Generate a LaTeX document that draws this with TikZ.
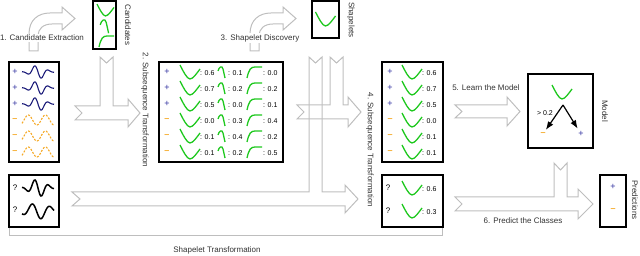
\documentclass[tikz,border=0pt]{standalone}
\usepackage{fontspec}
\setmainfont{Liberation Sans}
\usetikzlibrary{arrows.meta}
\definecolor{plusblue}{RGB}{50,50,160}
\definecolor{minusorange}{RGB}{245,170,40}
\definecolor{shpgreen}{RGB}{30,200,30}
\definecolor{blkgray}{RGB}{190,190,190}
\definecolor{navywave}{RGB}{25,25,120}
\tikzset{
  vsh/.pic={\draw[shpgreen, line width=1.3pt] (-10,-7) .. controls (-7,-1) and (-3,7) .. (0,7) .. controls (3,7) and (7,1) .. (10,-3);},
  hsh/.pic={\draw[shpgreen, line width=1.3pt] (-4,-1) .. controls (-3,-5) and (0,-7) .. (1,-3) .. controls (2,0) and (2,3) .. (3,6);},
  rsh/.pic={\draw[shpgreen, line width=1.3pt] (-7,6) .. controls (-5,-3) and (-3,-5) .. (1,-5) -- (8,-5);}
}
\begin{document}
\begin{tikzpicture}[x=1pt, y=-1pt, >=Latex,
  box/.style={draw, line width=1.3pt, inner sep=0pt},
  lbl/.style={font=\fontsize{8}{9}\selectfont, text=black!80, inner sep=1pt},
  val/.style={font=\fontsize{7}{8}\selectfont, inner sep=0pt, anchor=west},
  blk/.style={draw=blkgray, line width=1pt},
  pl/.style={text=plusblue, font=\fontsize{9}{10}\selectfont, inner sep=0pt},
  mi/.style={text=minusorange, font=\fontsize{9}{10}\selectfont\bfseries, inner sep=0pt},
  qm/.style={font=\fontsize{8}{9}\selectfont, inner sep=0pt}]
\useasboundingbox (0,0) rectangle (640,256);

\node[box, minimum width=50pt, minimum height=100pt] (trn) at (34,112) {};
\node[box, minimum width=50pt, minimum height=52pt] (tst) at (34,201) {};
\node[box, minimum width=23pt, minimum height=48pt] (cand) at (104.5,25) {};
\node[box, minimum width=124pt, minimum height=100pt] (mat) at (221,112) {};
\node[box, minimum width=27pt, minimum height=37pt] (shp) at (325.5,19.5) {};
\node[box, minimum width=61pt, minimum height=100pt] (trf) at (412.5,112) {};
\node[box, minimum width=61pt, minimum height=52pt] (tsf) at (412.5,201) {};
\node[box, minimum width=65pt, minimum height=74pt] (mdl) at (560.5,111) {};
\node[box, minimum width=26pt, minimum height=52pt] (prd) at (613,201) {};

\draw[blk] (29,51) -- (29,34) .. controls (29,20) and (38,13) .. (50,13) -- (62,13) -- (62,7) -- (75,18.5) -- (62,30) -- (62,24) -- (52,24) .. controls (43,24) and (38,29) .. (38,36) -- (38,51) -- cycle;
\draw[blk] (250,51) -- (250,34) .. controls (250,20) and (259,13) .. (271,13) -- (283,13) -- (283,7) -- (296,18.5) -- (283,30) -- (283,24) -- (273,24) .. controls (264,24) and (259,29) .. (259,36) -- (259,51) -- cycle;
\draw[blk] (75,106) -- (100,106) -- (100,57) -- (106.5,63) -- (113,57) -- (113,106) -- (128,106) -- (128,99) -- (140,113) -- (128,127) -- (128,120) -- (75,120) -- (82,113) -- cycle;
\draw[blk] (297,105) -- (330,105) -- (330,57) -- (336.5,63) -- (343,57) -- (343,105) -- (348,105) -- (348,97) -- (361,112) -- (348,127) -- (348,119) -- (297,119) -- (304,112) -- cycle;
\draw[blk] (72,192) -- (309,192) -- (309,57) -- (315.5,63) -- (322,57) -- (322,192) -- (345,192) -- (345,185) -- (358,199) -- (345,213) -- (345,206) -- (72,206) -- (80,199) -- cycle;
\draw[blk] (455,105) -- (507,105) -- (507,97) -- (520,111.5) -- (507,126) -- (507,118) -- (455,118) -- (462,111.5) -- cycle;
\draw[blk] (455,197) -- (554,197) -- (554,163) -- (560.5,170) -- (567,163) -- (567,197) -- (578,197) -- (578,189) -- (593,204) -- (578,219) -- (578,211) -- (455,211) -- (462,204) -- cycle;
\draw[blk] (9,228) -- (9,236) -- (442,236) -- (442,228);

\node[lbl, fill=white] (ext) at (42,38) {1. Candidate Extraction};
\node[lbl, rotate=-90] (candl) at (128,25) {Candidates};
\node[lbl, rotate=-90] (sub1) at (145,110) {2. Subsequence Transformation};
\node[lbl, fill=white] (disc) at (260,38) {3. Shapelet Discovery};
\node[lbl, rotate=-90] (shpl) at (351,20) {Shapelets};
\node[lbl, rotate=-90] (sub2) at (370,150) {4. Subsequence Transformation};
\node[lbl] (learn) at (486,88) {5. Learn the Model};
\node[lbl, rotate=-90] (mdll) at (605,111) {Model};
\node[lbl] (pred) at (523,221) {6. Predict the Classes};
\node[lbl, rotate=-90] (prdl) at (635,200) {Predictions};
\node[lbl] (stf) at (217,250) {Shapelet Transformation};

\foreach \r in {72,88,104} {
  \node[pl] (trn\r) at (15,\r) {+};
  \draw[navywave, line width=1.1pt] plot[domain=22:54, samples=50, smooth] (\x, {\r - 7*sin(25.7*(\x-31))*exp(-((\x-38)/9)*((\x-38)/9))});
}
\foreach \r in {120,136,152} {
  \node[mi] (trn\r) at (15,\r) {–};
  \draw[minusorange, line width=1.1pt, dash pattern=on 2pt off 1.5pt] plot[domain=22:54, samples=50, smooth] (\x, {\r - 5*sin(21*(\x-24))});
}
\node[qm] (tst1) at (15,188) {?};
\node[qm] (tst2) at (15,210) {?};
\draw[black, line width=1.5pt] plot[domain=22:54, samples=50, smooth] (\x, {188 - 9*sin(25.7*(\x-31))*exp(-((\x-38)/10)*((\x-38)/10))});
\draw[black, line width=1.5pt] plot[domain=22:54, samples=50, smooth] (\x, {211 - 8*sin(20*(\x-27.5))*exp(-((\x-38)/16)*((\x-38)/16))});

\pic[scale=0.85] at (105.5,10) {vsh};
\pic[scale=1.2] at (105,26) {hsh};
\pic at (106,41) {rsh};
\pic at (325.5,19) {vsh};

\foreach \y/\c/\s/\a/\b/\d in {72/pl/+/0.6/0.1/0.0, 88/pl/+/0.7/0.2/0.2, 104/pl/+/0.5/0.0/0.1, 120/mi/–/0.0/0.3/0.4, 136/mi/–/0.1/0.4/0.2, 152/mi/–/0.1/0.2/0.5} {
  \node[\c] (ms\y) at (167,\y) {\s};
  \pic at (190,\y) {vsh};
  \node[val] (ma\y) at (200,\y+1) {: \a};
  \pic at (222,\y) {hsh};
  \node[val] (mb\y) at (228,\y+1) {: \b};
  \pic at (254,\y) {rsh};
  \node[val] (md\y) at (263,\y+1) {: \d};
  \node[\c] (ts\y) at (390,\y) {\s};
  \pic at (412,\y) {vsh};
  \node[val] (ta\y) at (422,\y+1) {: \a};
}
\foreach \y/\a in {188/0.6, 211/0.3} {
  \node[qm] (uq\y) at (388,\y) {?};
  \pic at (412,\y) {vsh};
  \node[val] (ua\y) at (422,\y+1) {: \a};
}

\pic at (562,92) {vsh};
\coordinate (spl) at (563,105);
\node[mi] (neg) at (543,134) {–};
\node[pl] (pos) at (581,134) {+};
\node[qm, font=\fontsize{7}{8}\selectfont] (thr) at (545,113) {> 0.2};
\draw[->, line width=1.2pt, shorten >=3pt] (spl) -- (neg);
\draw[->, line width=1.2pt, shorten >=3pt] (spl) -- (pos);
\node[pl] (ppos) at (613,187) {+};
\node[mi] (pneg) at (613,210) {–};
\end{tikzpicture}
\end{document}
